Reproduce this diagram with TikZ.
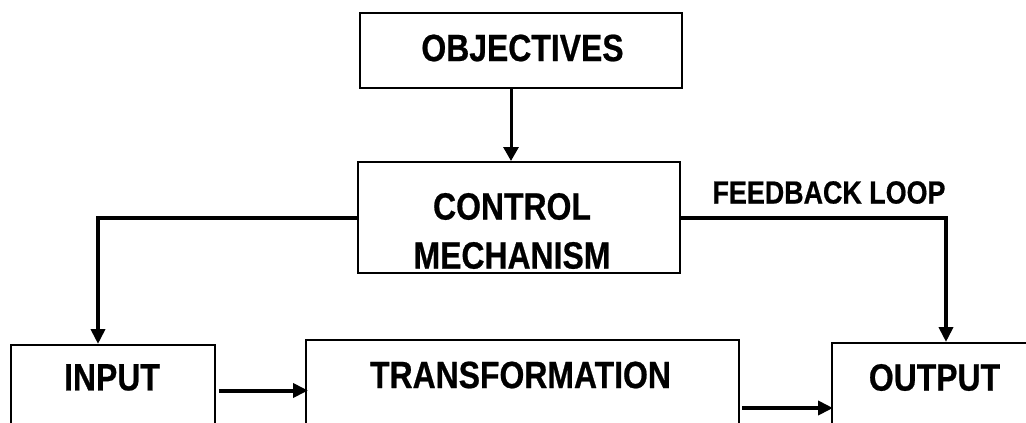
\documentclass[tikz,border=0pt]{standalone}
\usepackage{fontspec}
\newfontfamily\diagfont{Liberation Sans}[FakeStretch=0.84,FakeBold=0.6]
\usetikzlibrary{arrows.meta,positioning}

\begin{document}
\begin{tikzpicture}[x=1pt,y=-1pt,
  block/.style={draw,rectangle,line width=2pt,inner sep=0pt},
  caption/.style={font=\diagfont\bfseries\fontsize{38}{49}\selectfont,
    align=center,inner sep=0pt},
  arrow/.style={-{Triangle[length=15pt,width=14pt]},line width=4pt},
  thinarrow/.style={-{Triangle[length=14pt,width=15pt]},line width=3pt},
]
  \useasboundingbox (0,0) rectangle (1026,423);
  % boxes
  \node[block,minimum width=322pt,minimum height=75pt] (objectives) at (521,50.5) {};
  \node[block,minimum width=322pt,minimum height=111pt] (control) at (519,217.5) {};
  \node[block,minimum width=204pt,minimum height=125pt] (input) at (113,407.5) {};
  \node[block,minimum width=433pt,minimum height=130pt] (transformation) at (522.5,405) {};
  \node[block,minimum width=214pt,minimum height=127pt] (output) at (939,406.5) {};
  % texts
  \node[caption] (objectives text) at (522.5,48) {OBJECTIVES};
  \node[caption] (control text) at (512,231) {CONTROL\\MECHANISM};
  \node[caption] (input text) at (112,377.5) {INPUT};
  \node[caption] (transformation text) at (520.5,375) {TRANSFORMATION};
  \node[caption] (output text) at (934.5,377.5) {OUTPUT};
  \node[caption,font=\diagfont\bfseries\fontsize{32}{38}\selectfont] (feedback) at (829,192.5) {FEEDBACK LOOP};
  % connectors
  \draw[thinarrow] ([xshift=-10pt]objectives.south)
    -- ([xshift=-10pt]objectives.south |- control.north);
  \draw[arrow] (control.west) -| ([xshift=-15pt]input.north);
  \draw[arrow] (control.east) -| ([xshift=7pt]output.north);
  \draw[arrow] ([xshift=3pt,yshift=17pt]input.east)
    -- ([xshift=3pt,yshift=17pt]input.east -| transformation.west);
  \draw[arrow] ([xshift=2pt,yshift=-3pt]transformation.east)
    -- ([xshift=2pt,yshift=-3pt]transformation.east -| output.west);
\end{tikzpicture}
\end{document}
